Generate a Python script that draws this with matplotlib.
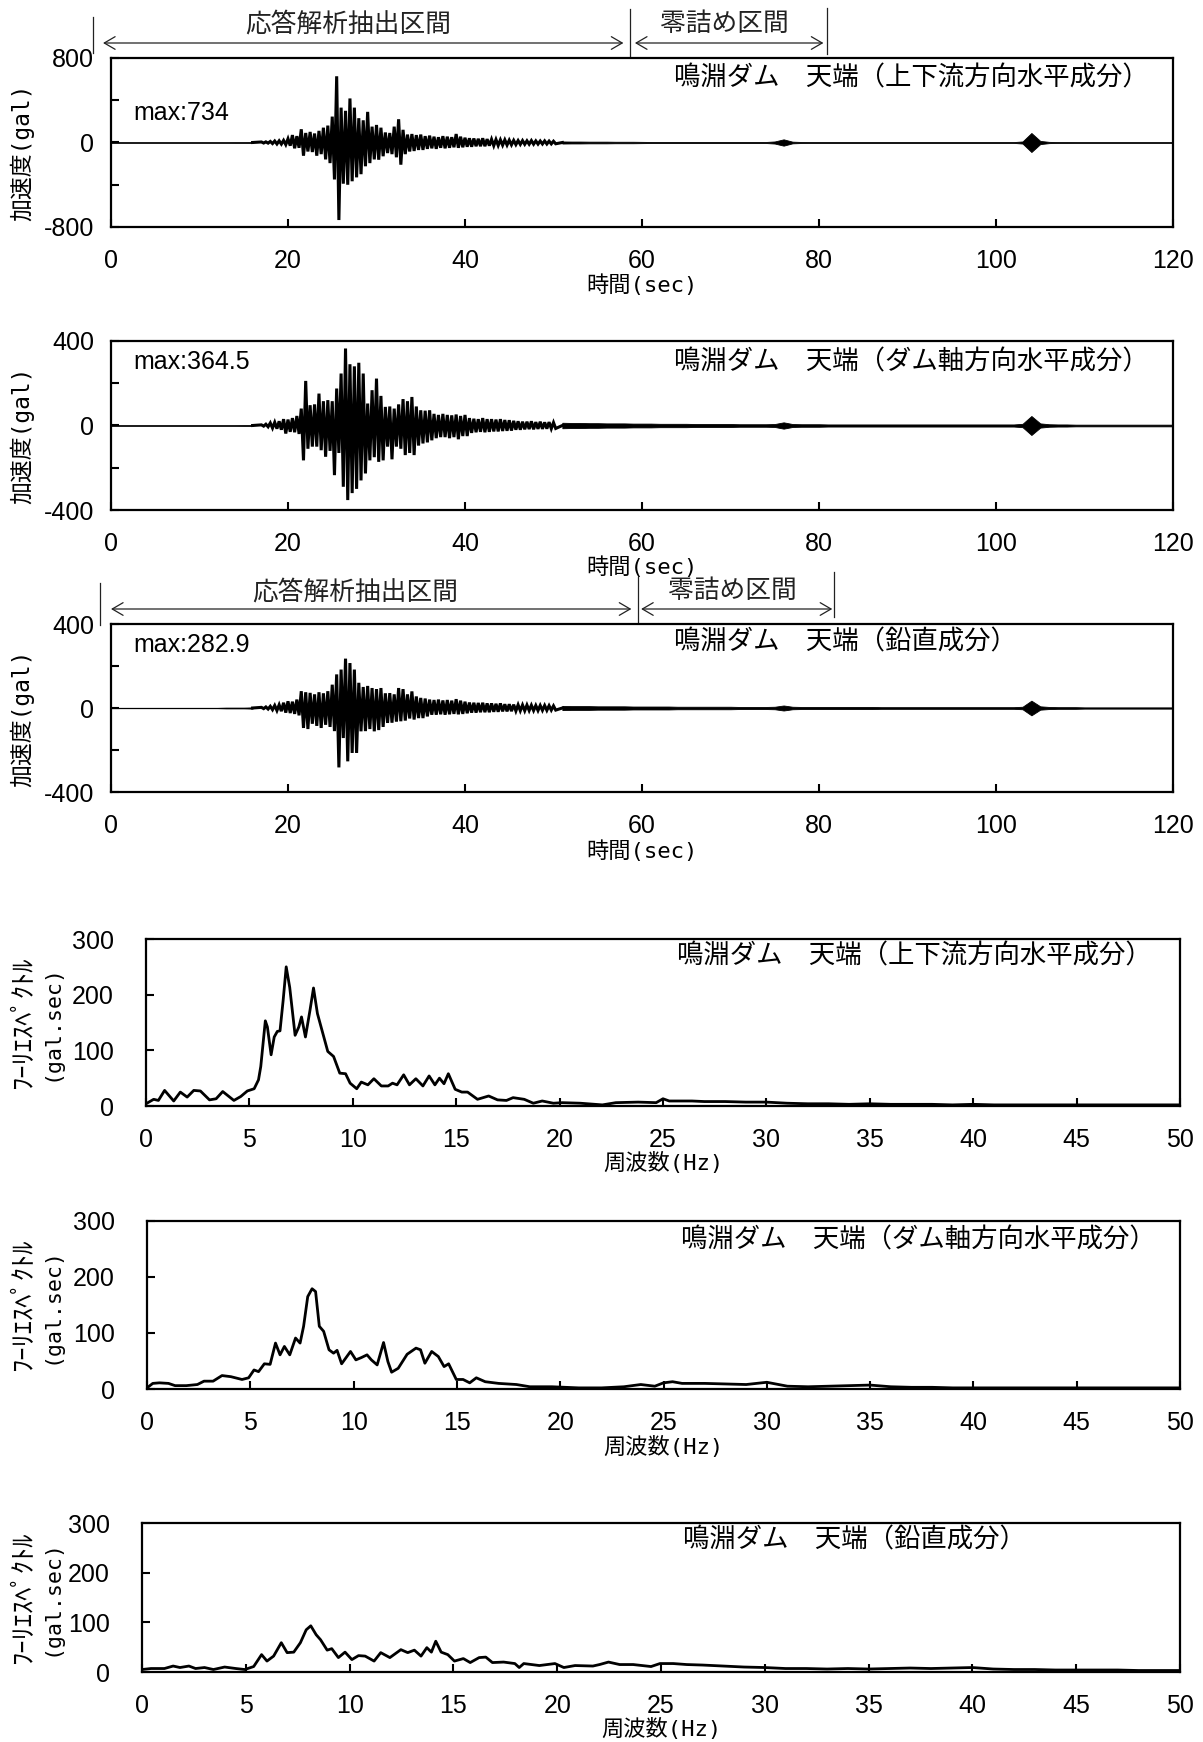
import numpy as np
import matplotlib
matplotlib.use("Agg")
import matplotlib.pyplot as plt
from matplotlib import font_manager
from matplotlib.lines import Line2D
from matplotlib.transforms import blended_transform_factory

installed = {f.name for f in font_manager.fontManager.ttflist}
NUM_FONT = 'Liberation Sans Narrow' if 'Liberation Sans Narrow' in installed else 'Liberation Sans'
JP_FONT = 'Noto Sans CJK JP'
FONTS = [NUM_FONT, JP_FONT]
MONO = ['DejaVu Sans Mono', JP_FONT]
plt.rcParams['font.family'] = FONTS

# ---- acceleration records (gal), crest of the dam ----
# quiet part 0..16 s (1 s step), strong part 17..50 s (0.5 s step, upper/lower peaks),
# coda 51..120 s (1 s step)
T_PRE = np.arange(0, 17)
T_STRONG = np.arange(17.0, 50.01, 0.5)
T_TAIL = np.arange(51, 121)

ud_pre = [2, 2, 2, 2, 2, 2, 2, 2, 2, 2, 2, 2, 2, 2, 3, 3, 4]
ud_up = [5, 6, 10, 14, 16, 20, 35, 70, 60, 125,
         90, 100, 85, 110, 140, 160, 245, 627, 330, 300,
         417, 330, 230, 210, 290, 150, 166, 140, 95, 90,
         150, 220, 120, 75, 80, 70, 75, 60, 65, 55,
         50, 60, 55, 50, 80, 55, 45, 40, 38, 35,
         40, 32, 30, 28, 25, 25, 22, 20, 18, 18,
         16, 18, 15, 14, 15, 13, 12]
ud_lo = [-5, -6, -10, -14, -15, -20, -30, -55, -50, -125,
         -85, -90, -125, -110, -160, -195, -350, -734, -390, -400,
         -367, -330, -300, -225, -195, -160, -163, -130, -100, -110,
         -140, -210, -110, -85, -80, -70, -70, -60, -55, -60,
         -50, -55, -50, -45, -50, -45, -40, -40, -35, -35,
         -35, -30, -30, -28, -25, -24, -22, -20, -18, -17,
         -16, -16, -15, -14, -14, -13, -12]
ud_tail = [10, 9, 9, 8, 8, 8, 7, 7, 7, 6,
           5, 5, 5, 5, 5, 5, 5, 5, 5, 5,
           5, 5, 5, 5, 10, 30, 8, 5, 4, 4,
           4, 4, 4, 4, 4, 4, 4, 4, 4, 4,
           4, 4, 4, 4, 4, 4, 4, 4, 4, 4,
           4, 4, 10, 90, 15, 6, 4, 4, 3, 3,
           3, 3, 3, 3, 3, 3, 3, 3, 3, 3]

ax_pre = [1, 1, 1, 1, 1, 1, 1, 1, 1, 1, 1, 1, 1, 1, 1, 2, 2]
ax_up = [3, 6, 12, 15, 20, 30, 28, 35, 45, 80,
         211, 96, 100, 151, 115, 120, 115, 175, 246, 364.5,
         290, 280, 297, 246, 104, 167, 222, 140, 88, 90,
         80, 100, 125, 115, 135, 90, 72, 70, 72, 55,
         50, 55, 50, 48, 52, 45, 50, 35, 32, 30,
         35, 30, 30, 28, 30, 26, 25, 22, 20, 18,
         18, 20, 16, 18, 15, 16, 14]
ax_lo = [-3, -6, -12, -15, -20, -38, -30, -32, -40, -165,
         -110, -100, -100, -117, -148, -120, -235, -130, -290, -353,
         -320, -300, -260, -227, -165, -150, -172, -165, -100, -160,
         -100, -110, -140, -130, -140, -95, -85, -80, -70, -60,
         -55, -55, -60, -55, -65, -50, -50, -35, -32, -30,
         -32, -30, -28, -28, -26, -25, -24, -20, -20, -18,
         -17, -18, -16, -16, -15, -15, -14]
ax_tail = [13, 12, 12, 11, 11, 10, 10, 10, 9, 9,
           9, 8, 8, 8, 8, 7, 7, 7, 7, 7,
           6, 6, 6, 6, 7, 15, 7, 6, 6, 6,
           5, 5, 5, 5, 5, 5, 5, 5, 5, 5,
           5, 5, 5, 5, 5, 5, 5, 5, 5, 5,
           5, 5, 8, 45, 10, 6, 5, 5, 4, 4,
           4, 4, 4, 4, 4, 4, 4, 4, 4, 4]

v_pre = [1, 1, 1, 1, 1, 1, 1, 1, 1, 1, 1, 1, 1, 2, 2, 2, 3]
v_up = [3, 5, 8, 12, 15, 25, 32, 30, 40, 80,
        75, 72, 65, 75, 70, 80, 111, 160, 183, 235,
        214, 183, 120, 100, 105, 95, 90, 95, 70, 71,
        65, 95, 90, 65, 79, 55, 48, 45, 40, 38,
        40, 36, 38, 35, 42, 35, 30, 26, 25, 24,
        25, 22, 22, 20, 22, 18, 18, 16, 15, 14,
        14, 13, 12, 12, 12, 11, 10]
v_lo = [-3, -5, -8, -12, -15, -22, -24, -28, -35, -95,
        -100, -75, -85, -95, -80, -90, -110, -282.9, -143, -254,
        -214, -214, -111, -110, -100, -111, -105, -90, -71, -70,
        -65, -63, -60, -50, -55, -48, -48, -40, -32, -32,
        -30, -32, -30, -28, -30, -28, -25, -22, -22, -20,
        -20, -20, -18, -18, -16, -16, -15, -14, -13, -13,
        -12, -12, -12, -11, -11, -10, -10]
v_tail = [10, 9, 9, 9, 8, 8, 8, 8, 7, 7,
          7, 7, 7, 6, 6, 6, 6, 6, 6, 6,
          5, 5, 5, 5, 6, 12, 6, 5, 5, 5,
          5, 5, 5, 5, 5, 5, 4, 4, 4, 4,
          4, 4, 4, 4, 4, 4, 4, 4, 4, 4,
          4, 4, 6, 35, 8, 5, 4, 4, 4, 3,
          3, 3, 3, 3, 3, 3, 3, 3, 3, 3]

# ---- Fourier spectra (gal.sec) ----
TAIL_F = list(range(27, 51))
ud_f = [0.0, 0.37, 0.6, 0.9, 1.34, 1.66, 1.99, 2.31, 2.63, 3.07, 3.39, 3.71, 4.25, 4.58, 4.9,
        5.23, 5.44, 5.55, 5.77, 5.87, 6.05, 6.2, 6.35, 6.48, 6.63, 6.78, 6.95, 7.21, 7.39, 7.52,
        7.71, 7.93, 8.1, 8.29, 8.51, 8.79, 9.07, 9.37, 9.65, 9.87, 10.19, 10.41, 10.73, 11.02,
        11.38, 11.71, 11.92, 12.14, 12.46, 12.74, 13.05, 13.39, 13.69, 13.97, 14.19, 14.41,
        14.62, 14.95, 15.27, 15.55, 16.03, 16.57, 17.0, 17.43, 17.75, 18.29, 18.73, 19.16,
        19.7, 20.13, 21.0, 22.07, 22.72, 23.8, 24.67, 25.0, 25.3, 26.4] + TAIL_F
ud_fs = [4, 12, 10, 28, 9, 25, 16, 28, 27, 11, 13, 26, 10, 17, 27,
         31, 47, 71, 153, 142, 92, 124, 134, 135, 189, 250, 213, 127, 142, 160,
         124, 172, 212, 166, 136, 98, 89, 59, 58, 41, 31, 43, 38, 49,
         36, 36, 41, 38, 56, 38, 49, 36, 54, 38, 50, 40,
         58, 30, 25, 25, 12, 18, 11, 10, 15, 12, 5, 9,
         5, 6, 5, 2, 6, 7, 6, 13, 9, 9,
         8, 8, 7, 7, 5, 4, 4, 3, 4, 3, 3, 3, 2, 3, 2, 2, 2, 2, 2, 2, 2, 2, 2, 2]

ax_f = [0.0, 0.28, 0.6, 1.04, 1.36, 1.9, 2.44, 2.76, 3.2, 3.63, 4.06, 4.6, 4.92, 5.18, 5.4,
        5.68, 5.96, 6.22, 6.44, 6.65, 6.91, 7.19, 7.41, 7.58, 7.78, 7.99, 8.16, 8.34, 8.55,
        8.81, 9.03, 9.2, 9.42, 9.85, 10.11, 10.37, 10.65, 10.86, 11.14, 11.45, 11.66, 11.84,
        12.16, 12.59, 13.02, 13.24, 13.45, 13.78, 14.1, 14.38, 14.6, 14.97, 15.3, 15.62,
        15.94, 16.37, 17.02, 17.88, 18.53, 19.6, 20.9, 22.0, 23.08, 23.9, 24.58, 25.0,
        25.44, 25.9, 26.5] + TAIL_F
ax_fs = [2, 10, 11, 10, 6, 6, 8, 14, 14, 24, 22, 17, 20, 34, 31,
         45, 44, 82, 61, 76, 61, 91, 82, 112, 165, 179, 174, 112, 103,
         70, 64, 69, 45, 67, 52, 56, 61, 52, 43, 83, 49, 30,
         37, 62, 73, 70, 46, 67, 58, 40, 45, 17, 17, 11,
         20, 13, 10, 8, 4, 4, 2, 2, 4, 8, 5, 11,
         13, 10, 10,
         10, 9, 8, 12, 5, 4, 5, 6, 7, 4, 3, 3, 2, 2, 2, 2, 2, 2, 2, 2, 2, 2, 2, 2]

v_f = [0.0, 0.43, 1.08, 1.5, 1.83, 2.26, 2.58, 3.01, 3.44, 3.98, 4.52, 4.95, 5.38, 5.76,
       6.02, 6.34, 6.71, 6.99, 7.31, 7.63, 7.91, 8.13, 8.39, 8.6, 8.92, 9.14, 9.46, 9.78,
       10.11, 10.43, 10.75, 11.18, 11.5, 11.94, 12.47, 12.8, 13.12, 13.44, 13.72, 13.94,
       14.15, 14.41, 14.73, 15.05, 15.48, 15.81, 16.24, 16.56, 16.88, 17.42, 17.96, 18.17,
       18.39, 19.14, 19.89, 20.32, 20.86, 21.72, 22.04, 22.47, 23.01, 23.66, 24.52, 24.95,
       25.59, 26.24] + TAIL_F
v_fs = [5, 7, 7, 12, 9, 12, 7, 9, 5, 10, 7, 5, 11, 35,
        22, 32, 59, 39, 40, 59, 85, 93, 75, 65, 44, 47, 29, 40,
        25, 33, 32, 22, 39, 29, 45, 39, 44, 32, 49, 40,
        62, 40, 35, 22, 27, 19, 29, 30, 19, 20, 17, 9,
        17, 13, 17, 9, 13, 12, 15, 20, 15, 15, 11, 17,
        17, 15,
        14, 12, 10, 9, 7, 7, 6, 7, 6, 7, 8, 7, 8, 9, 6, 5, 5, 4, 4, 4, 4, 3, 3, 3]

TITLE_UD = '鳴淵ダム　天端（上下流方向水平成分）'
TITLE_AX = '鳴淵ダム　天端（ダム軸方向水平成分）'
TITLE_V = '鳴淵ダム　天端（鉛直成分）'

W, H = 1203, 1742
fig = plt.figure(figsize=(W / 100, H / 100), dpi=100)


def box(x0, y0, x1, y1):
    return fig.add_axes([x0 / W, 1 - y1 / H, (x1 - x0) / W, (y1 - y0) / H])


def fy(ypix):
    return 1 - ypix / H


def zigzag(t, up, lo, half):
    tt = np.empty(2 * len(t))
    vv = np.empty(2 * len(t))
    tt[0::2] = t
    tt[1::2] = np.asarray(t, float) + half
    vv[0::2] = up
    vv[1::2] = lo
    return tt, vv


def frame(ax, ypad):
    for s in ax.spines.values():
        s.set_linewidth(1.6)
    ax.tick_params(direction='in', length=6, width=1.5, labelsize=18)
    ax.tick_params(axis='x', pad=15.5)
    ax.tick_params(axis='y', pad=ypad)


def accel(rect, lim, pre, up, lo, tail, title, title_y, max_y, xlab_y):
    ax = box(*rect)
    # quiet parts: thin noisy band around zero
    for t, a in ((T_PRE, pre), (T_TAIL, tail)):
        a = np.asarray(a, float)
        ax.fill_between(t, -a, a, color='black', lw=0.6)
    # strong motion: alternating peaks, heavy stroke so the core fills in
    t, v = zigzag(T_STRONG, up, lo, 0.25)
    ax.plot(np.r_[T_PRE[-1], t, T_TAIL[0]], np.r_[0, v, 0], color='black',
            lw=2.2, solid_joinstyle='miter')
    ax.set_xlim(0, 120)
    ax.set_ylim(-lim, lim)
    ax.set_xticks(range(0, 121, 20))
    ax.set_yticks([-lim, -lim / 2, 0, lim / 2, lim],
                  labels=[f'-{lim}', '', '0', '', f'{lim}'])
    frame(ax, 12)
    peak = np.max(np.abs(np.r_[up, lo]))
    ax.text(0.021, max_y, f'max:{peak:g}', transform=ax.transAxes,
            fontsize=18, ha='left', va='center')
    ax.text(0.530, title_y, title, transform=ax.transAxes, fontsize=19,
            family=[JP_FONT], ha='left', va='center')
    x0, y0, x1, y1 = rect
    fig.text((x0 + x1) / 2 / W, fy(xlab_y), '時間(sec)', family=MONO,
             fontsize=16, ha='center', va='center')
    fig.text(22 / W, fy((y0 + y1) / 2 + 10), '加速度(gal)', family=MONO,
             fontsize=16.5, rotation=90, ha='center', va='center')
    return ax


def spectrum(rect, f, s, title, title_x, title_y, xlab_y):
    ax = box(*rect)
    ax.plot(f, s, color='black', lw=2.0, solid_joinstyle='round')
    ax.set_xlim(0, 50)
    ax.set_ylim(0, 300)
    ax.set_xticks(range(0, 51, 5))
    ax.set_yticks([0, 100, 200, 300])
    frame(ax, 23)
    ax.text(title_x, title_y, title, transform=ax.transAxes, fontsize=19,
            family=[JP_FONT], ha='left', va='center')
    x0, y0, x1, y1 = rect
    fig.text((x0 + x1) / 2 / W, fy(xlab_y), '周波数(Hz)', family=MONO,
             fontsize=16, ha='center', va='center')
    yc = fy((y0 + y1) / 2)
    fig.text(23 / W, yc, 'ﾌｰﾘｴｽﾍﾟｸﾄﾙ', family=[JP_FONT], fontsize=19,
             rotation=90, ha='center', va='center')
    fig.text(52 / W, yc, '(gal.sec)', family=MONO, fontsize=15.5,
             rotation=90, ha='center', va='center')
    return ax


def sections(ax, vlines, arrows, labels):
    tr = blended_transform_factory(ax.transData, fig.transFigure)
    for x, ya, yb in vlines:
        ax.add_line(Line2D([x, x], [fy(ya), fy(yb)], transform=tr,
                           color='#222222', lw=0.9, clip_on=False))
    for xa, xb, y in arrows:
        ax.annotate('', xy=(xb, fy(y)), xytext=(xa, fy(y)), xycoords=tr,
                    textcoords=tr, annotation_clip=False,
                    arrowprops=dict(arrowstyle='<->,head_length=0.6,head_width=0.35',
                                    lw=0.9, color='#222222', shrinkA=0, shrinkB=0,
                                    mutation_scale=13))
    for x, y, txt in labels:
        ax.text(x, fy(y), txt, transform=tr, ha='center', va='center',
                fontsize=18.5, family=[JP_FONT], color='#222222', clip_on=False)


a1 = accel((111, 58, 1173, 227), 800, ud_pre, ud_up, ud_lo, ud_tail,
           TITLE_UD, 0.882, 0.675, 285)
sections(a1,
         [(-2.0, 17, 53), (58.6, 9, 57), (80.9, 8, 54)],
         [(-0.9, 57.9, 43), (59.2, 80.5, 43)],
         [(26.8, 25, '応答解析抽出区間'), (69.3, 24, '零詰め区間')])

accel((111, 341, 1173, 510), 400, ax_pre, ax_up, ax_lo, ax_tail,
      TITLE_AX, 0.876, 0.876, 567)

a3 = accel((111, 624, 1173, 792), 400, v_pre, v_up, v_lo, v_tail,
           TITLE_V, 0.893, 0.875, 851)
sections(a3,
         [(-1.2, 583, 625), (59.5, 577, 622), (81.7, 572, 617)],
         [(0.0, 58.8, 609), (59.9, 81.5, 609)],
         [(27.6, 592, '応答解析抽出区間'), (70.2, 591, '零詰め区間')])

spectrum((146, 939, 1180, 1106), ud_f, ud_fs, TITLE_UD, 0.514, 0.898, 1163)
spectrum((147, 1221, 1180, 1389), ax_f, ax_fs, TITLE_AX, 0.517, 0.887, 1447)
spectrum((142, 1523, 1180, 1672), v_f, v_fs, TITLE_V, 0.521, 0.886, 1729)

fig.savefig('out.png', dpi=100)
